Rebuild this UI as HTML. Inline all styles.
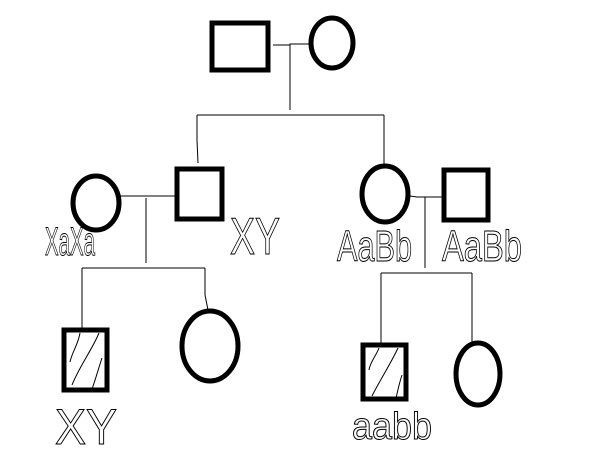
<!DOCTYPE html>
<html><head><style>
html,body{margin:0;padding:0;background:#fff;width:614px;height:460px;overflow:hidden}
svg{display:block}
text{font-family:"Liberation Sans",sans-serif;font-weight:normal;fill:none;stroke:#000;stroke-width:1}
</style></head><body>
<svg width="614" height="460" viewBox="0 0 614 460" xmlns="http://www.w3.org/2000/svg">
<g fill="none" stroke="#000" stroke-width="1">
<polyline points="273,45 290,45 290,44 309,44"/>
<line x1="290" y1="45" x2="290" y2="110"/>
<line x1="197" y1="115" x2="384" y2="115"/>
<polyline points="197,115 197,140 198,163"/>
<line x1="384" y1="115" x2="384" y2="165"/>
<line x1="120" y1="196" x2="175" y2="196"/>
<line x1="146" y1="198" x2="146" y2="263"/>
<line x1="82" y1="268" x2="205" y2="268"/>
<line x1="82" y1="268" x2="82" y2="328"/>
<polyline points="205,268 205,295 208,310"/>
<polyline points="410,196 417,197 442,197"/>
<line x1="425" y1="197" x2="425" y2="268"/>
<line x1="381" y1="273" x2="472" y2="273"/>
<line x1="381" y1="273" x2="381" y2="343"/>
<line x1="472" y1="273" x2="472" y2="343"/>
<path d="M80,333 C78,345 72,352 70,362 M99,333 C92,350 80,365 72,385 M102,358 C98,370 96,378 92,389"/>
<path d="M379,348 C376,356 370,362 369,370 M398,348 C390,365 380,380 372,396 M402,375 C399,384 398,390 396,398"/>
</g>
<g fill="none" stroke="#000" stroke-width="5">
<rect x="212" y="23" width="56" height="47"/>
<ellipse cx="332" cy="43" rx="21" ry="25"/>
<ellipse cx="96" cy="203" rx="23" ry="27"/>
<rect x="177" y="169" width="45" height="50"/>
<ellipse cx="385" cy="194" rx="23" ry="28"/>
<rect x="444" y="170" width="44" height="50"/>
<rect x="64" y="330" width="43" height="60"/>
<ellipse cx="210" cy="346" rx="28" ry="35"/>
<rect x="363" y="345" width="43" height="54"/>
<ellipse cx="478" cy="374" rx="22" ry="31"/>
</g>
<text x="45" y="255" font-size="40" textLength="50" lengthAdjust="spacingAndGlyphs">XaXa</text>
<text x="230" y="254" font-size="52" textLength="50" lengthAdjust="spacingAndGlyphs">XY</text>
<text x="337" y="261" font-size="44" textLength="75" lengthAdjust="spacingAndGlyphs">AaBb</text>
<text x="442" y="261" font-size="44" textLength="80" lengthAdjust="spacingAndGlyphs">AaBb</text>
<text x="55" y="444" font-size="50" textLength="62" lengthAdjust="spacingAndGlyphs">XY</text>
<text x="352" y="439" font-size="38" textLength="80" lengthAdjust="spacingAndGlyphs">aabb</text>
</svg>
</body></html>
